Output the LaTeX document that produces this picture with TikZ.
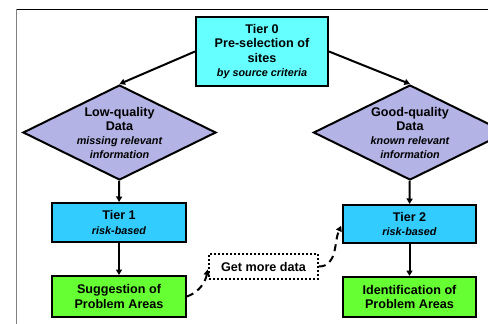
\documentclass[tikz,border=0pt]{standalone}
\usepackage{fontspec}
\setmainfont{Liberation Sans}
\usetikzlibrary{arrows.meta}
\usetikzlibrary{shapes.geometric}

\definecolor{tiercyan}{HTML}{66FFFF}
\definecolor{lavender}{HTML}{B3B3E6}
\definecolor{tierblue}{HTML}{33CCFF}
\definecolor{areagreen}{HTML}{66FF33}
\newcommand\noteit[1]{{\itshape\fontsize{10.8}{12.5}\selectfont #1}}

\begin{document}
\begin{tikzpicture}[x=1pt,y=-1pt]
  \tikzset{tierbox/.style = {shape=rectangle,draw,line width=2pt,minimum width=133pt,inner sep=0pt,align=center,font=\bfseries\fontsize{12.6}{14.5}\selectfont}}
  \tikzset{quality/.style = {shape=diamond,draw,line width=2pt,fill=lavender,shape aspect=2.03,minimum width=193pt,minimum height=95pt,inner sep=0pt,align=center,font=\bfseries\fontsize{12.6}{14}\selectfont}}
  \tikzset{edge/.style = {line width=2pt,-{Triangle[length=5.5pt,width=6pt]}}}
  \tikzset{detour/.style = {edge,dash pattern=on 7pt off 5pt}}
  \useasboundingbox (0,0) rectangle (488,324);
  \clip (0,0) rectangle (488,324);
  % frame
  \draw[line width=1pt] (16,9.5) -- (488,9.5);
  \draw[gray,line width=1.5pt] (16.5,9) -- (16.5,324);

	\node[tierbox,fill=tiercyan,minimum width=132pt,minimum height=69pt] (T0) at (262,51.5) {Tier 0\\Pre-selection of\\sites\\\noteit{by source criteria}};
	\node[quality] (LD) at (119.5,132.5) {Low-quality\\Data\\\noteit{missing relevant}\\\noteit{information}};
	\node[quality] (RD) at (410,132.5) {Good-quality\\Data\\\noteit{known relevant}\\\noteit{information}};
	\node[tierbox,fill=tierblue,minimum width=134pt,minimum height=39pt] (T1) at (119,222.5) {Tier 1\\\noteit{risk-based}};
	\node[tierbox,fill=tierblue,minimum height=38pt] (T2) at (409.5,224) {Tier 2\\\noteit{risk-based}};
	\node[tierbox,fill=areagreen,minimum width=134pt,minimum height=41pt] (SP) at (119,296.5) {Suggestion of\\Problem Areas};
	\node[tierbox,fill=areagreen,minimum height=40pt] (IP) at (409.5,297) {Identification of\\Problem Areas};
	\node[tierbox,dotted,line width=1.6pt,minimum width=109pt,minimum height=25pt] (GM) at (263.5,266.5) {Get more data};

	\draw[edge] (T0.west) -- (LD.north);
	\draw[edge] (T0.east) -- (RD.north);
       \foreach \from/\to in {LD/T1, T1/SP, RD/T2, T2/IP}
    \path[edge] (\from) edge (\to);
	\draw[detour,shorten >=3pt] (SP.east) to[out=20,in=-100] (GM.west);
	\draw[detour,shorten >=2pt] (GM.east) to[out=0,in=-115] (T2.west);
\end{tikzpicture}
\end{document}
